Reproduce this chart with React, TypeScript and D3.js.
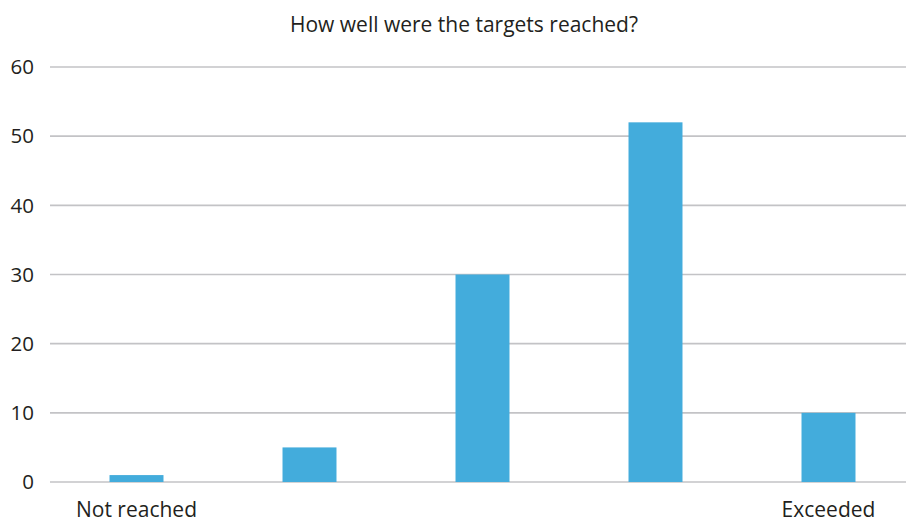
import React from "react";
import * as d3 from "d3";

const categories = ["Not reached", "2", "3", "4", "Exceeded"];
const axisLabels = ["Not reached", "", "", "", "Exceeded"];
const values = [1, 5, 30, 52, 10];
const yTicks = [0, 10, 20, 30, 40, 50, 60];
const title = "How well were the targets reached?";

export default function App() {
  const W = 906, H = 523;
  const x = d3.scaleBand<string>().domain(categories).range([50, 915]).paddingInner(0.688).paddingOuter(0.344);
  const y = d3.scaleLinear().domain([0, 60]).range([482, 67]);
  const font = "'Open Sans', sans-serif";
  const textColor = "#231f20";
  return (
    <svg width={W} height={H} style={{ position: "absolute", left: 0, top: 0, background: "#fff" }}>
      <text x={464} y={32} textAnchor="middle" fontFamily={font} fontSize={21} fill={textColor}>{title}</text>
      {yTicks.map((t) => (
        <g key={t}>
          <line x1={50} x2={906} y1={y(t)} y2={y(t)} stroke="#c3c3c6" strokeWidth={1.6} />
          <text x={34} y={y(t)} dy="0.35em" textAnchor="end" fontFamily={font} fontSize={20.5} fill={textColor}>{t}</text>
        </g>
      ))}
      {values.map((v, i) => (
        <rect key={i} x={x(categories[i])} width={x.bandwidth()} y={y(v)} height={y(0) - y(v)} fill="#43acdc" />
      ))}
      {axisLabels.map((l, i) => (
        <text key={i} x={(x(categories[i]) as number) + x.bandwidth() / 2} y={517} textAnchor="middle" fontFamily={font} fontSize={21} fill={textColor}>{l}</text>
      ))}
    </svg>
  );
}
